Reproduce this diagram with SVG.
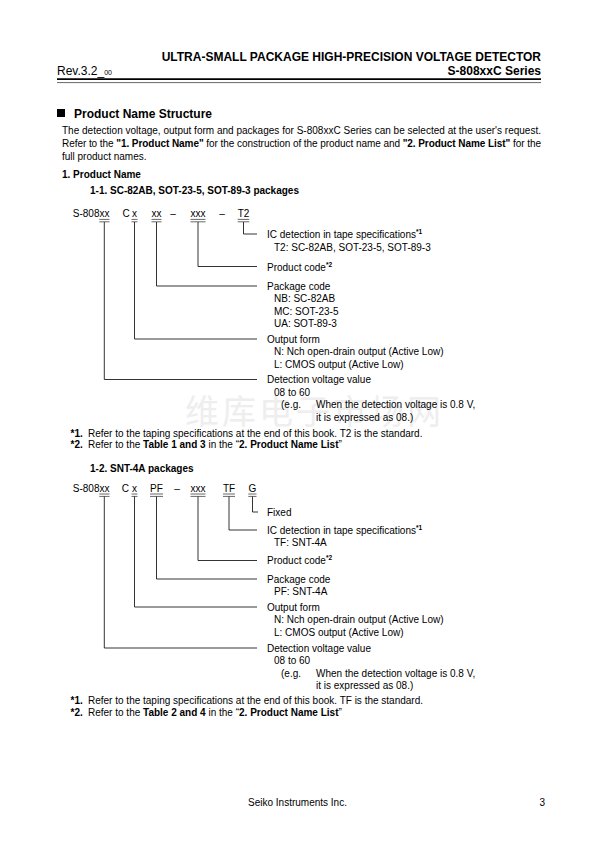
<svg xmlns="http://www.w3.org/2000/svg" width="595" height="842" viewBox="0 0 595 842">
<style>
text{font-family:"Liberation Sans",Arial,sans-serif;font-size:10px;fill:#000}
.b{font-weight:bold}
.h{font-size:12px;font-weight:bold}
.sup{font-size:6.5px;font-weight:bold}
.wm{font-family:"Noto Sans CJK SC",sans-serif;font-size:34px;fill:#eeeeee}
.c{stroke:#000;stroke-width:0.8;fill:none}
.u{stroke:#000;stroke-width:0.6}
</style>
<rect width="595" height="842" fill="#fff"/>
<text id="watermark" class="wm" x="185" y="424" textLength="256">维库电子市场网</text>
<g id="header">
<text x="541" y="61" class="h" text-anchor="end">ULTRA-SMALL PACKAGE HIGH-PRECISION VOLTAGE DETECTOR</text>
<text x="541" y="75" class="h" text-anchor="end">S-808xxC Series</text>
<text x="57" y="75" style="font-size:12px">Rev.3.2_<tspan style="font-size:7px">00</tspan></text>
<line x1="57" y1="79.2" x2="541" y2="79.2" stroke="#000" stroke-width="1.8"/>
<line x1="57" y1="82.6" x2="541" y2="82.6" stroke="#000" stroke-width="0.6"/>
</g>
<g id="intro">
<rect x="57" y="109" width="8" height="8" fill="#000"/>
<text x="74" y="118" class="h">Product Name Structure</text>
<text x="62" y="134" textLength="479" lengthAdjust="spacing">The detection voltage, output form and packages for S-808xxC Series can be selected at the user's request.</text>
<text x="62" y="147" textLength="479" lengthAdjust="spacing">Refer to the <tspan class="b">"1. Product Name"</tspan> for the construction of the product name and <tspan class="b">"2. Product Name List"</tspan> for the</text>
<text x="62" y="159.5">full product names.</text>
<text x="62" y="178" class="b">1.  Product Name</text>
</g>
<g id="section1">
<text x="90" y="194" class="b">1-1.  SC-82AB, SOT-23-5, SOT-89-3 packages</text>
<g id="code1">
<text x="109.5" y="217" text-anchor="end">S-808xx</text>
<text x="122.5" y="217">C</text>
<text x="134.5" y="217" text-anchor="middle">x</text>
<text x="156.5" y="217" text-anchor="middle">xx</text>
<text x="173" y="217" text-anchor="middle">–</text>
<text x="198" y="217" text-anchor="middle">xxx</text>
<text x="222" y="217" text-anchor="middle">–</text>
<text x="243.5" y="217" text-anchor="middle">T2</text>
<path class="u" d="M99.3 219.4H109.5M99.3 221.8H109.5M131.5 219.4H137.5M131.5 221.8H137.5M151.5 219.4H161.5M151.5 221.8H161.5M190.5 219.4H205.5M190.5 221.8H205.5M237.7 219.4H249.3M237.7 221.8H249.3"/>
</g>
<g id="n1-tape"><text x="267" y="238">IC detection in tape specifications<tspan class="sup" dy="-4">*1</tspan></text><text x="274" y="251">T2: SC-82AB, SOT-23-5, SOT-89-3</text></g>
<g id="n1-product"><text x="267" y="270.5">Product code<tspan class="sup" dy="-4">*2</tspan></text></g>
<g id="n1-package"><text x="267" y="289.5">Package code</text><text x="274" y="302">NB:  SC-82AB</text><text x="274" y="314.5">MC:  SOT-23-5</text><text x="274" y="327">UA:  SOT-89-3</text></g>
<g id="n1-output"><text x="267" y="342.5">Output form</text><text x="274" y="355">N: Nch open-drain output (Active Low)</text><text x="274" y="367.5">L: CMOS output (Active Low)</text></g>
<g id="n1-voltage"><text x="267" y="383">Detection voltage value</text><text x="274" y="395.5">08 to 60</text><text x="281" y="408">(e.g.</text><text x="316" y="408">When the detection voltage is 0.8 V,</text><text x="316" y="420.5">it is expressed as 08.)</text></g>
<g id="notes1"><text x="70.5" y="436.5"><tspan class="b">*1.</tspan></text><text x="88" y="436.5">Refer to the taping specifications at the end of this book.  T2 is the standard.</text>
<text x="70.5" y="448"><tspan class="b">*2.</tspan></text><text x="88" y="448">Refer to the <tspan class="b">Table 1 and 3</tspan> in the “<tspan class="b">2. Product Name List</tspan>”</text></g>
</g>
<g id="section2">
<text x="90" y="471.5" class="b">1-2.  SNT-4A packages</text>
<g id="code2">
<text x="109.5" y="491.5" text-anchor="end">S-808xx</text>
<text x="121.7" y="491.5">C</text>
<text x="134.5" y="491.5" text-anchor="middle">x</text>
<text x="156.5" y="491.5" text-anchor="middle">PF</text>
<text x="177" y="491.5" text-anchor="middle">–</text>
<text x="198" y="491.5" text-anchor="middle">xxx</text>
<text x="229" y="491.5" text-anchor="middle">TF</text>
<text x="252.5" y="491.5" text-anchor="middle">G</text>
<path class="u" d="M99.3 494H109.5M99.3 496.4H109.5M131.5 494H137.5M131.5 496.4H137.5M150 494H163M150 496.4H163M190.5 494H205.5M190.5 496.4H205.5M223 494H235M223 496.4H235M248.3 494H256.5M248.3 496.4H256.5"/>
</g>
<g id="n2-fixed"><text x="267" y="515.5">Fixed</text></g>
<g id="n2-tape"><text x="267" y="533.5">IC detection in tape specifications<tspan class="sup" dy="-4">*1</tspan></text><text x="274" y="546">TF: SNT-4A</text></g>
<g id="n2-product"><text x="267" y="564">Product code<tspan class="sup" dy="-4">*2</tspan></text></g>
<g id="n2-package"><text x="267" y="582.5">Package code</text><text x="274" y="595">PF: SNT-4A</text></g>
<g id="n2-output"><text x="267" y="610.5">Output form</text><text x="274" y="623">N: Nch open-drain output (Active Low)</text><text x="274" y="635.5">L: CMOS output (Active Low)</text></g>
<g id="n2-voltage"><text x="267" y="651.5">Detection voltage value</text><text x="274" y="664">08 to 60</text><text x="281" y="676.5">(e.g.</text><text x="316" y="676.5">When the detection voltage is 0.8 V,</text><text x="316" y="689">it is expressed as 08.)</text></g>
<g id="notes2"><text x="70.5" y="704"><tspan class="b">*1.</tspan></text><text x="88" y="704">Refer to the taping specifications at the end of this book.  TF is the standard.</text>
<text x="70.5" y="715.5"><tspan class="b">*2.</tspan></text><text x="88" y="715.5">Refer to the <tspan class="b">Table 2 and 4</tspan> in the “<tspan class="b">2. Product Name List</tspan>”</text></g>
</g>
<g id="connectors">
<path class="c" d="M243.5 222V234H257"/>
<path class="c" d="M198 222V266.5H257"/>
<path class="c" d="M156.5 222V286H257"/>
<path class="c" d="M134.5 222V339H257"/>
<path class="c" d="M104.3 222V379.5H257"/>
<path class="c" d="M252.5 496.5V512H258"/>
<path class="c" d="M229 496.5V530H257"/>
<path class="c" d="M198 496.5V560.5H257"/>
<path class="c" d="M156.5 496.5V579H257"/>
<path class="c" d="M134.5 496.5V607H257"/>
<path class="c" d="M104.3 496.5V648H257"/>
</g>
<g id="footer">
<text x="297.5" y="806" text-anchor="middle">Seiko Instruments Inc.</text>
<text x="545" y="806" text-anchor="end">3</text>
</g>
</svg>
